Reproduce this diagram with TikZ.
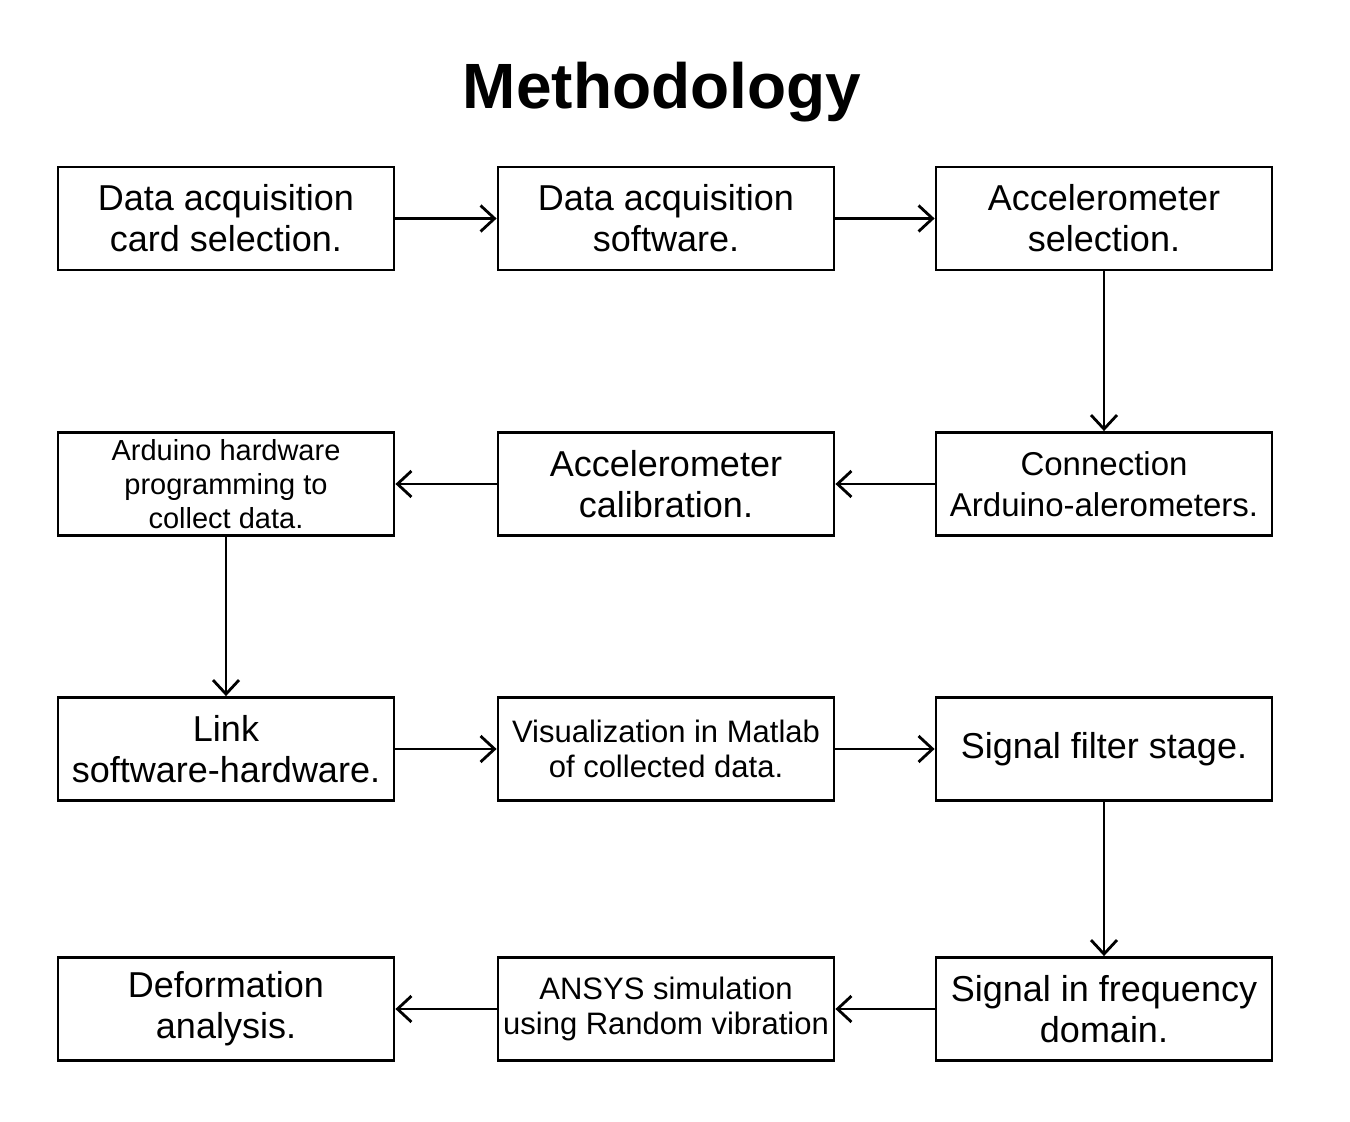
\documentclass[tikz,border=0pt]{standalone}
\usepackage{fontspec}
\setmainfont{Liberation Sans}
\usetikzlibrary{arrows.meta}
\begin{document}
\begin{tikzpicture}[x=0.5pt,y=-0.5pt,
 box/.style={draw,line width=1.4pt,minimum width=168pt,minimum height=51.5pt,inner sep=1pt,align=center,font=\fontsize{18}{20.5}\selectfont},
 sm/.style={font=\fontsize{14.5}{17}\selectfont},
 md/.style={font=\fontsize{15.5}{17.5}\selectfont},
 arr/.style={line width=1.4pt,-{Straight Barb[length=7pt,width=13pt,line width=1.4pt]}}]
\useasboundingbox (0,0) rectangle (1350,1122);
\node[font=\bfseries\fontsize{32}{36}\selectfont] (t) at (662,92) {Methodology};
\node[box] (a1) at (226,218.5) {Data acquisition\\card selection.};
\node[box] (a2) at (666,218.5) {Data acquisition\\software.};
\node[box] (a3) at (1104,218.5) {Accelerometer\\selection.};
\node[box,sm] (b1) at (226,484) {Arduino hardware\\programming to\\collect data.};
\node[box] (b2) at (666,484) {Accelerometer\\calibration.};
\node[box,font=\fontsize{16.5}{20.5}\selectfont] (b3) at (1104,484) {Connection\\Arduino-alerometers.};
\node[box] (c1) at (226,749) {Link\\software-hardware.};
\node[box,md] (c2) at (666,749) {Visualization in Matlab\\of collected data.};
\node[box] (c3) at (1104,749) {Signal filter stage.};
\node[box] (d1) at (226,1009) {Deformation\\analysis.};
\node[box,md] (d2) at (666,1009) {ANSYS simulation\\using Random vibration};
\node[box] (d3) at (1104,1009) {Signal in frequency\\domain.};
\draw[arr] (a1) -- (a2);
\draw[arr] (a2) -- (a3);
\draw[arr] (a3) -- (b3);
\draw[arr] (b3) -- (b2);
\draw[arr] (b2) -- (b1);
\draw[arr] (b1) -- (c1);
\draw[arr] (c1) -- (c2);
\draw[arr] (c2) -- (c3);
\draw[arr] (c3) -- (d3);
\draw[arr] (d3) -- (d2);
\draw[arr] (d2) -- (d1);
\end{tikzpicture}
\end{document}
